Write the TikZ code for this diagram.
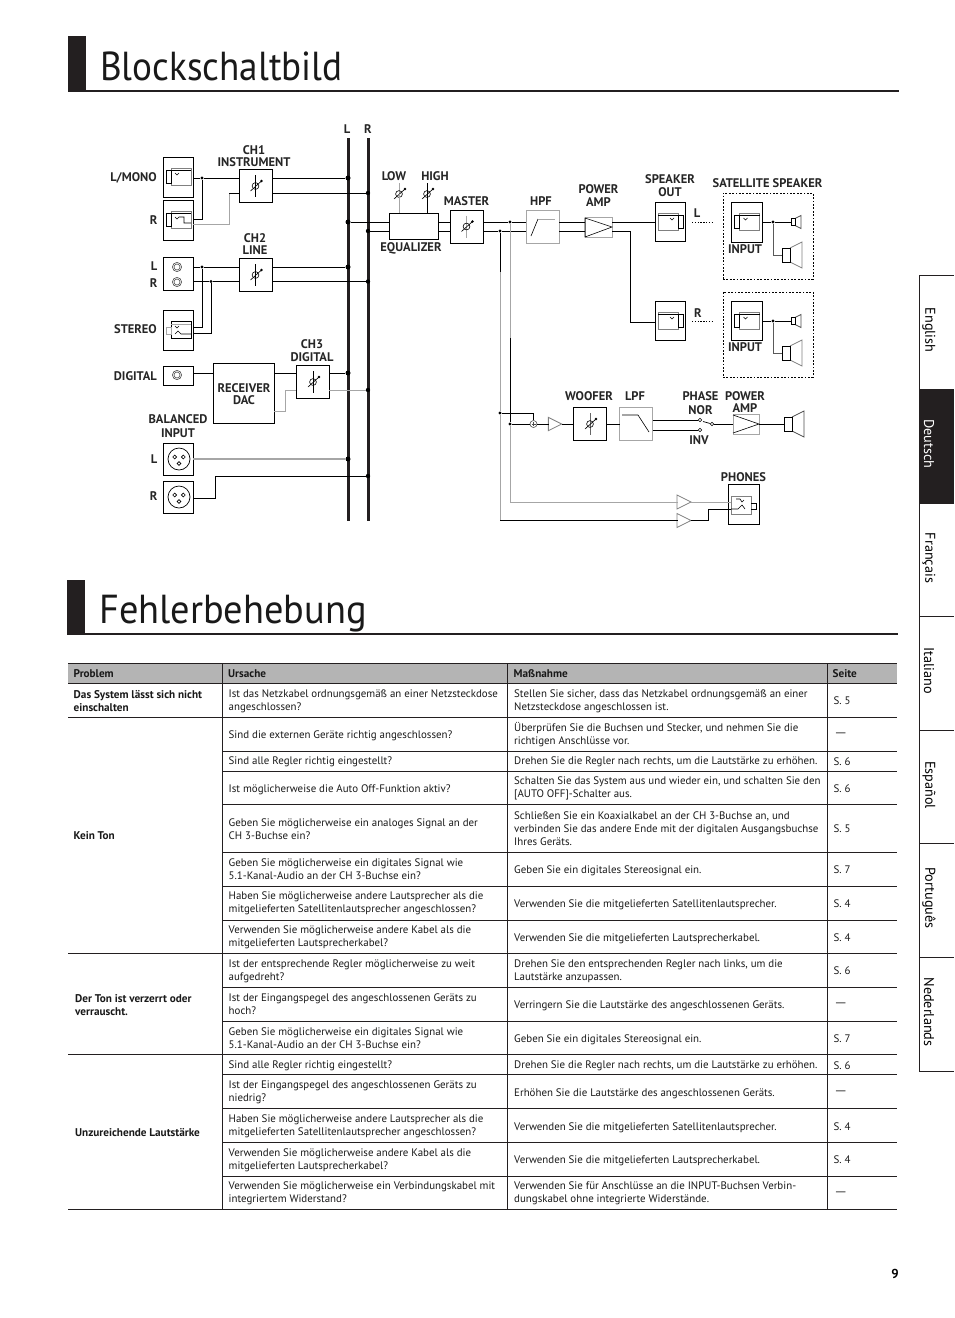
\documentclass[tikz,border=0pt]{standalone}
\usepackage{fontspec}
\setmainfont{PT Sans}
\usepackage{xcolor}
\usetikzlibrary{
    calc,
    positioning
}
\definecolor{midgrey}{HTML}{A6A6A6}
\definecolor{icongrey}{HTML}{808080}
\definecolor{headgrey}{HTML}{B4B4B4}
\definecolor{tabdark}{HTML}{231F20}
\tikzset{
    box/.style 2 args={draw=black, line width=0.8pt, fill=white, minimum width=#1, minimum height=#2, inner sep=0pt, outer sep=0pt},
    greybox/.style 2 args={box={#1}{#2}, draw=midgrey, line width=1pt},
    wire/.style={black, line width=0.7pt},
    gwire/.style={midgrey, line width=1pt},
    dot/.style={circle, fill=black, minimum size=3.4pt, inner sep=0pt},
    busdot/.style={circle, fill=black, minimum size=5pt, inner sep=0pt},
    contact/.style={circle, draw=black, line width=0.6pt, minimum size=3.6pt, inner sep=0pt},
    tri/.style={minimum size=13pt, inner sep=0pt, outer sep=0pt},
    lab/.style={font=\fontsize{12.5}{12.6}\selectfont\bfseries, align=center, inner sep=0pt, text=black!85},
    labw/.style={lab, font=\fontsize{12.5}{14}\selectfont\bfseries},
    labr/.style={lab, anchor=east},
    cell/.style={font=\fontsize{10.9}{13.2}\selectfont, align=left, anchor=west, inner sep=0pt, text=black!90, yshift=-0.4pt},
    prob/.style={cell, font=\fontsize{11.2}{13.2}\selectfont\bfseries},
    head/.style={prob},
    title/.style={font=\fontsize{40.5}{42}\selectfont, anchor=west, inner sep=0pt, text=black!90},
    tabtext/.style={font=\fontsize{14.2}{15}\selectfont, rotate=-90, inner sep=0pt},
    pics/knob/.style={code={
        \draw[#1, line width=0.8pt] (0,-11) -- (0,11);
        \draw[black, line width=0.6pt] (0,0) circle (3.4);
        \draw[black, line width=0.6pt] (-5,5) -- (6,-5);
        \fill[black] (6,-5) circle (1.4);
    }},
    pics/jack/.style={code={
        \draw[icongrey, line width=0.9pt] (-7,-9) rectangle (13,8);
        \draw[black, line width=0.6pt] (-12,-7) rectangle (-7,6);
        \draw[black, line width=0.6pt] (-7,-7) -- (13,-7);
        \draw[black, line width=0.6pt] (-3,-4) -- (-1,-2) -- (1,-4);
    }},
    pics/jackr/.style={code={
        \draw[icongrey, line width=0.9pt] (-7,-9) rectangle (13,8);
        \draw[black, line width=0.6pt] (-12,-7) rectangle (-7,6);
        \draw[black, line width=0.6pt] (-7,-7) -- (13,-7);
        \draw[black, line width=0.6pt] (-3,-3) -- (-1,-1) -- (1,-3) -- (6,-3) -- (6,3) -- (13,3);
    }},
    pics/jacks/.style={code={
        \draw[black, line width=0.6pt] (-7,-9) rectangle (13,8);
        \draw[midgrey, line width=0.9pt] (-12,-3) rectangle (-7,4);
        \draw[midgrey, line width=0.9pt] (-7,-6) -- (13,-6);
        \draw[black, line width=0.6pt] (-3,-4) -- (-1,-2) -- (1,-4);
        \draw[black, line width=0.6pt] (-3,4) -- (0,1) -- (3,4) -- (13,4);
    }},
    pics/spk/.style={code={
        \draw[#1, line width=0.8pt] (4,-3.5) -- (10,-6.5) -- (10,6.5) -- (4,3.5);
        \draw[black, line width=0.6pt] (0,-3.5) rectangle (4,3.5);
    }},
    pics/amptri/.style={code={
        \draw[icongrey, line width=0.8pt] (-7,-7) -- (7,0) -- (-7,7) -- cycle;
    }},
    pics/rca/.style={code={
        \draw[black!70, line width=0.6pt] (0,0) circle (4.6);
        \draw[black!70, line width=0.6pt] (0,0) circle (3);
    }},
    pics/xlr/.style={code={
        \draw[black, line width=0.7pt] (0,0) circle (11);
        \draw[black, line width=0.6pt] (-4.3,-2) circle (1.9);
        \draw[black, line width=0.6pt] (4.3,-2) circle (1.9);
        \draw[black, line width=0.6pt] (0,4.5) circle (1.9);
    }}
}

\begin{document}
\begin{tikzpicture}[x=1pt, y=-1pt]
    \useasboundingbox (0,0) rectangle (954,1318);
    % headings
    \fill[tabdark] (68,36) rectangle (86,91);
    \draw[tabdark, line width=2pt] (68,91) -- (899,91);
    \node[title] (t1) at (100,66) {\scalebox{0.917}[1]{Blockschaltbild}};
    \fill[tabdark] (67,580) rectangle (85,634);
    \draw[tabdark, line width=2pt] (67,634) -- (898,634);
    \node[title] (t2) at (99,614) {\scalebox{0.947}[1]{Fehlerbehebung}};
    % input boxes
    \node[box={30}{40}] (lmono) at (178,177) {};
    \node[box={30}{40}] (rmono) at (178,220) {};
    \node[box={30}{33}] (line) at (178,273.5) {};
    \node[box={30}{40}] (stereo) at (178,330) {};
    \node[box={30}{19}] (dig) at (178,375.5) {};
    \node[box={30}{32}] (xlrl) at (178,459) {};
    \node[box={30}{32}] (xlrr) at (178,497) {};
    \pic at (178,177) {jack};
    \pic at (178,220) {jackr};
    \pic at (177,267) {rca};
    \pic at (177,282) {rca};
    \pic at (178,330) {jacks};
    \pic at (177,375) {rca};
    \pic at (179,459) {xlr};
    \pic at (179,497) {xlr};
    % channel boxes
    \node[box={33}{33}] (ch1) at (255.5,185.5) {};
    \node[box={33}{33}] (ch2) at (255.5,274.5) {};
    \node[box={33}{33}] (ch3) at (312.5,381.5) {};
    \node[box={61}{60}] (recv) at (243.5,393) {};
    \pic at (255.5,186) {knob=black};
    \pic at (255.5,275) {knob=black};
    \pic at (313,382) {knob=black};
    % output chain boxes
    \node[box={49}{26}] (eq) at (413.5,226) {};
    \node[box={33}{33}] (master) at (466.5,226.5) {};
    \node[greybox={33}{33}] (hpf) at (542.5,226.5) {};
    \node[greybox={27}{20}] (amp) at (598.5,227) {};
    \node[box={30}{39}] (spl) at (670,221.5) {};
    \node[box={30}{39}] (spr) at (670,320.5) {};
    \node[box={33}{33}] (woof) at (590,423.5) {};
    \node[greybox={33}{33}] (lpf) at (636,423.5) {};
    \node[greybox={26}{20}] (amp2) at (746,424) {};
    \node[box={31}{40}] (phones) at (743.5,504) {};
    \pic at (466.5,226.5) {knob=midgrey};
    \pic at (590,424) {knob=black!60};
    \draw[black, line width=0.6pt] (531,236) -- (538,219);
    \draw[midgrey, line width=0.9pt] (538,219) -- (555,219);
    \draw[black, line width=0.6pt] (622,415) -- (638,415) -- (649,432);
    \draw[black, line width=0.6pt] (585,218) -- (612,227) -- (585,237) -- cycle;
    \draw[black, line width=0.6pt] (733,415) -- (759,424) -- (733,433);
    \pic[xscale=-1] at (671,222) {jack};
    \pic[xscale=-1] at (671,321) {jack};
    \pic at (746.5,222) {jack};
    \pic at (746.5,321) {jack};
    % phones jack
    \draw[icongrey, line width=0.9pt] (731,496) rectangle (751,514);
    \draw[black, line width=0.6pt] (751,503) -- (756,503) -- (756,509) -- (751,509);
    \draw[black, line width=0.6pt] (736,499) -- (740,499) -- (742,502) -- (744,500);
    \draw[black, line width=0.6pt] (731,509) -- (738,509) -- (742,505) -- (745,509);
    % buses
    \node[lab] (busl) at (347,129) {L};
    \node[lab] (busr) at (368,129) {R};
    \draw[tabdark, line width=3pt] (348,138) -- (348,521);
    \draw[tabdark, line width=3pt] (368,138) -- (368,521);
    % junctions
    \node[dot] (d1) at (202,178) {};
    \node[dot] (d2) at (202,267) {};
    \node[dot] (d3) at (211,281.5) {};
    \node[busdot] (l1) at (348,178) {};
    \node[dot, minimum size=4.4pt] (r1) at (368,193) {};
    \node[busdot] (l2) at (348,222) {};
    \node[dot, minimum size=4.4pt] (r2) at (368,231) {};
    \node[busdot] (l3) at (348,267) {};
    \node[dot, minimum size=4.4pt] (r3) at (368,281.5) {};
    \node[busdot] (l4) at (348,373) {};
    \node[dot, minimum size=4.4pt] (r4) at (368,390) {};
    \node[busdot] (l5) at (348,459) {};
    \node[dot, minimum size=4.4pt] (r5) at (368,476) {};
    % input wiring
    \coordinate (c1) at (202,219);
    \coordinate (c2) at (229,224);
    \coordinate (c3) at (229,193);
    \draw[wire] (lmono.east |- d1) -- (d1) -- (ch1.west |- d1);
    \draw[wire] (rmono.east |- c1) -- (c1) -- (d1);
    \draw[gwire] (rmono.east |- c2) -- (c2) -- (c3);
    \draw[wire] (c3) -- (ch1.west |- c3);
    \draw[wire] (ch1.east |- l1) -- (l1);
    \draw[wire] (ch1.east |- r1) -- (r1);
    \draw[wire] (line.east |- d2) -- (d2) -- (ch2.west |- d2);
    \draw[wire] (line.east |- d3) -- (d3) -- (ch2.west |- d3);
    \draw[wire] (ch2.east |- l3) -- (l3);
    \draw[wire] (ch2.east |- r3) -- (r3);
    \coordinate (c4) at (202,327);
    \coordinate (c5) at (211,333);
    \draw[wire] (d2) -- (c4) -- (stereo.east |- c4);
    \draw[wire] (d3) -- (c5) -- (stereo.east |- c5);
    \draw[wire] (dig.east |- l4) -- (recv.west |- l4);
    \draw[wire] (recv.east |- l4) -- (ch3.west |- l4);
    \draw[wire] (ch3.east |- l4) -- (l4);
    \coordinate (c6) at (285,411);
    \coordinate (c7) at (285,390);
    \draw[gwire] (recv.east |- c6) -- (c6) -- (c7) -- (ch3.west |- c7);
    \draw[gwire] (ch3.east |- r4) -- (r4);
    \draw[gwire, line width=1.3pt] (xlrl.east |- l5) -- (l5);
    \coordinate (c8) at (215,498);
    \coordinate (c9) at (215,476);
    \draw[wire] (xlrr.east |- c8) -- (c8) -- (c9) -- (r5);
    % output wiring
    \node[dot] (d4) at (510,222) {};
    \node[dot] (d5) at (500,231) {};
    \node[dot] (d6) at (500,413) {};
    \node[dot] (d7) at (510,424) {};
    \draw[wire] (l2) -- (eq.west |- l2);
    \draw[wire] (r2) -- (eq.west |- r2);
    \draw[wire] (eq.east |- l2) -- (master.west |- l2);
    \draw[wire] (eq.east |- r2) -- (master.west |- r2);
    \draw[wire] (master.east |- d4) -- (d4) -- (hpf.west |- d4);
    \draw[wire] (master.east |- d5) -- (d5) -- (hpf.west |- d5);
    \draw[wire] (hpf.east |- d4) -- (amp.west |- d4);
    \draw[wire] (hpf.east |- d5) -- (amp.west |- d5);
    \coordinate (c10) at (630,231);
    \coordinate (c11) at (630,322);
    \draw[wire] (amp.east |- d4) -- (spl.west |- d4);
    \draw[wire] (amp.east |- c10) -- (c10) -- (c11) -- (spr.west |- c11);
    % low, high
    \coordinate (klow) at (399,194);
    \coordinate (khigh) at (427,194);
    \pic at (klow) {knob=midgrey};
    \pic at (khigh) {knob=black};
    \draw[gwire] (klow) -- (eq.north -| klow);
    \draw[wire] (khigh) -- (eq.north -| khigh);
    % dotted links
    \coordinate (dl1) at (692,222);
    \coordinate (dl2) at (712,222);
    \coordinate (dr1) at (692,321);
    \coordinate (dr2) at (712,321);
    \draw[black, line width=0.6pt, dash pattern=on 1.4pt off 1.4pt] (dl1) -- (dl2);
    \draw[black, line width=0.6pt, dash pattern=on 1.4pt off 1.4pt] (dr1) -- (dr2);
    % satellite speakers
    \node[draw=black, line width=0.6pt, dash pattern=on 1.8pt off 1.6pt, minimum width=90pt, minimum height=86pt, inner sep=0pt] (sat1) at (768,236) {};
    \node[draw=black, line width=0.6pt, dash pattern=on 1.8pt off 1.6pt, minimum width=90pt, minimum height=85pt, inner sep=0pt] (sat2) at (768,334.5) {};
    \node[box={31}{40}, fill=none] (in1) at (746.5,222) {};
    \node[box={31}{39}, fill=none] (in2) at (746.5,320.5) {};
    \node[dot] (d8) at (773,222) {};
    \node[dot] (d9) at (773,321) {};
    \coordinate (s1) at (791,222);
    \coordinate (s2) at (782,255);
    \coordinate (s3) at (791,321);
    \coordinate (s4) at (782,353);
    \pic at (s1) {spk=black!70};
    \pic[scale=2] at (s2) {spk=icongrey};
    \pic at (s3) {spk=black!70};
    \pic[scale=2] at (s4) {spk=icongrey};
    \draw[wire] (in1.east |- d8) -- (d8) -- (s1);
    \draw[black!65, line width=0.8pt] (d8) |- (s2);
    \draw[wire] (in2.east |- d9) -- (d9) -- (s3);
    \draw[black!65, line width=0.8pt] (d9) |- (s4);
    % woofer branch
    \node[circle, draw=black!70, line width=0.6pt, minimum size=7pt, inner sep=0pt] (sum) at (533.5,424) {};
    \draw[black!70, line width=0.5pt] ($(sum)+(-2,0)$) -- ($(sum)+(2,0)$);
    \draw[black!70, line width=0.5pt] ($(sum)+(0,-2)$) -- ($(sum)+(0,2)$);
    \node[tri] (tw) at (555,424) {};
    \pic[scale=0.95] at (tw) {amptri};
    \coordinate (c12) at (533.5,413);
    \coordinate (c17) at (500,272);
    \coordinate (c18) at (510,338);
    \coordinate (c14) at (500,520.5);
    \coordinate (c13) at (510,502);
    \draw[wire] (d5) -- (c17);
    \draw[gwire] (c17) -- (d6) -- (c14);
    \draw[gwire] (d4) -- (c18);
    \draw[wire] (c18) -- (d7);
    \draw[wire] (d6) -- (c12) -- (sum);
    \draw[wire] (d7) -- (sum);
    \draw[wire] (sum) -- (tw.west);
    \draw[wire] (tw.east) -- (woof.west |- tw);
    \draw[wire] (woof.east |- tw) -- (lpf.west |- tw);
    \node[contact] (nor) at (700,420) {};
    \node[contact] (inv) at (700,430) {};
    \node[contact] (com) at (712,424) {};
    \draw[wire] (lpf.east |- nor) -- (nor);
    \draw[wire] (lpf.east |- inv) -- (inv);
    \draw[wire] (703,421.5) -- (com);
    \draw[wire] (com) -- (amp2.west |- com);
    \coordinate (s5) at (784,424);
    \draw[wire] (amp2.east |- com) -- (s5);
    \pic[scale=2] at (s5) {spk=black!70};
    % phones branch
    \node[tri] (tp1) at (684,502) {};
    \node[tri] (tp2) at (684,520.5) {};
    \pic at (tp1) {amptri};
    \pic at (tp2) {amptri};
    \coordinate (c15) at (708,520.5);
    \coordinate (c16) at (708,509);
    \draw[gwire] (d7) -- (c13) -- (tp1.west);
    \draw[gwire] (tp1.east) -- (731,502);
    \draw[wire] (c14) -- (tp2.west);
    \draw[wire] (tp2.east) -- (c15) -- (c16) -- (731,509);
    % labels
    \node[lab] (lbch1) at (254,156) {CH1\\INSTRUMENT};
    \node[labr] (lblm) at (157,178) {L/MONO};
    \node[labr] (lbr1) at (157.5,220) {R};
    \node[lab] (lbch2) at (255,244) {CH2\\LINE};
    \node[labr] (lbl2) at (157.5,266) {L};
    \node[labr] (lbr2) at (157.5,283) {R};
    \node[labr] (lbst) at (157,329) {STEREO};
    \node[labr] (lbdg) at (157,376) {DIGITAL};
    \node[lab] (lbch3) at (312,350.5) {CH3\\DIGITAL};
    \node[lab] (lbrv) at (244,394) {RECEIVER\\DAC};
    \node[labw] (lbbal) at (178,426) {BALANCED\\INPUT};
    \node[labr] (lbl3) at (157.5,459) {L};
    \node[labr] (lbr3) at (157.5,496) {R};
    \node[lab] (lblow) at (394,176) {LOW};
    \node[lab] (lbhi) at (435,176) {HIGH};
    \node[lab] (lbma) at (466.5,201) {MASTER};
    \node[lab] (lbeq) at (411,248) {EQUALIZER};
    \node[lab] (lbhp) at (541,201) {HPF};
    \node[lab] (lbpa) at (598.5,195.5) {POWER\\AMP};
    \node[lab] (lbso) at (670,185.5) {SPEAKER\\OUT};
    \node[lab] (lbsa) at (767.5,183) {SATELLITE SPEAKER};
    \node[lab] (lbll) at (697,213.5) {L};
    \node[lab] (lbrr) at (698,313) {R};
    \node[lab] (lbi1) at (745,249) {INPUT};
    \node[lab] (lbi2) at (745,347) {INPUT};
    \node[lab] (lbwo) at (589,396) {WOOFER};
    \node[lab] (lblp) at (635,396) {LPF};
    \node[labw] (lbph) at (700.5,403) {PHASE\\NOR};
    \node[lab] (lbin) at (699,440) {INV};
    \node[lab] (lbp2) at (745,402) {POWER\\AMP};
    \node[lab] (lbpn) at (743.5,477) {PHONES};
    % table
    \fill[headgrey] (68,663) rectangle (897,683);
    \draw[tabdark, line width=1pt] (68,663) -- (897,663);
    \foreach \y in {683,717,953,1054,1209} \draw[tabdark, line width=1pt] (68,\y) -- (897,\y);
    \foreach \y in {751,771,804,852,886,920,987,1021,1074,1108,1142,1176} \draw[tabdark, line width=1pt] (222,\y) -- (897,\y);
    \foreach \x in {222,507,827} \draw[tabdark, line width=1pt] (\x,663) -- (\x,1209);
    \node[head] (h1) at (73.5,673.5) {Problem};
    \node[head] (h2) at (228,673.5) {Ursache};
    \node[head] (h3) at (513.5,673.5) {Maßnahme};
    \node[head] (h4) at (832.5,673.5) {Seite};
    \node[prob] (p1) at (73.5,700.5) {Das System lässt sich nicht\\einschalten};
    \node[prob] (p2) at (73.5,835.5) {Kein Ton};
    \node[prob] (p3) at (75,1004.5) {Der Ton ist verzerrt oder\\verrauscht.};
    \node[prob] (p4) at (75,1132.5) {Unzureichende Lautstärke};
    \node[cell] (u1) at (228.5,700.5) {Ist das Netzkabel ordnungsgemäß an einer Netzsteckdose\\angeschlossen?};
    \node[cell] (u2) at (228.5,735) {Sind die externen Geräte richtig angeschlossen?};
    \node[cell] (u3) at (228.5,761.5) {Sind alle Regler richtig eingestellt?};
    \node[cell] (u4) at (228.5,789) {Ist möglicherweise die Auto Off-Funktion aktiv?};
    \node[cell] (u5) at (228.5,828.5) {Geben Sie möglicherweise ein analoges Signal an der\\CH 3-Buchse ein?};
    \node[cell] (u6) at (228.5,869) {Geben Sie möglicherweise ein digitales Signal wie\\5.1-Kanal-Audio an der CH 3-Buchse ein?};
    \node[cell] (u7) at (228.5,903) {Haben Sie möglicherweise andere Lautsprecher als die\\mitgelieferten Satellitenlautsprecher angeschlossen?};
    \node[cell] (u8) at (228.5,936.5) {Verwenden Sie möglicherweise andere Kabel als die\\mitgelieferten Lautsprecherkabel?};
    \node[cell] (u9) at (228.5,970.5) {Ist der entsprechende Regler möglicherweise zu weit\\aufgedreht?};
    \node[cell] (u10) at (228.5,1004) {Ist der Eingangspegel des angeschlossenen Geräts zu\\hoch?};
    \node[cell] (u11) at (228.5,1038) {Geben Sie möglicherweise ein digitales Signal wie\\5.1-Kanal-Audio an der CH 3-Buchse ein?};
    \node[cell] (u12) at (228.5,1065.5) {Sind alle Regler richtig eingestellt?};
    \node[cell] (u13) at (228.5,1092) {Ist der Eingangspegel des angeschlossenen Geräts zu\\niedrig?};
    \node[cell] (u14) at (228.5,1126) {Haben Sie möglicherweise andere Lautsprecher als die\\mitgelieferten Satellitenlautsprecher angeschlossen?};
    \node[cell] (u15) at (228.5,1159.5) {Verwenden Sie möglicherweise andere Kabel als die\\mitgelieferten Lautsprecherkabel?};
    \node[cell] (u16) at (228.5,1193) {Verwenden Sie möglicherweise ein Verbindungskabel mit\\integriertem Widerstand?};
    \node[cell] (m1) at (514,700.5) {Stellen Sie sicher, dass das Netzkabel ordnungsgemäß an einer\\Netzsteckdose angeschlossen ist.};
    \node[cell] (m2) at (514,734) {Überprüfen Sie die Buchsen und Stecker, und nehmen Sie die\\richtigen Anschlüsse vor.};
    \node[cell] (m3) at (514,761.5) {Drehen Sie die Regler nach rechts, um die Lautstärke zu erhöhen.};
    \node[cell] (m4) at (514,788) {Schalten Sie das System aus und wieder ein, und schalten Sie den\\{[}AUTO OFF{]}-Schalter aus.};
    \node[cell] (m5) at (514,828.5) {Schließen Sie ein Koaxialkabel an der CH 3-Buchse an, und\\verbinden Sie das andere Ende mit der digitalen Ausgangsbuchse\\Ihres Geräts.};
    \node[cell] (m6) at (514,870) {Geben Sie ein digitales Stereosignal ein.};
    \node[cell] (m7) at (514,904) {Verwenden Sie die mitgelieferten Satellitenlautsprecher.};
    \node[cell] (m8) at (514,938) {Verwenden Sie die mitgelieferten Lautsprecherkabel.};
    \node[cell] (m9) at (514,970.5) {Drehen Sie den entsprechenden Regler nach links, um die\\Lautstärke anzupassen.};
    \node[cell] (m10) at (514,1005) {Verringern Sie die Lautstärke des angeschlossenen Geräts.};
    \node[cell] (m11) at (514,1039) {Geben Sie ein digitales Stereosignal ein.};
    \node[cell] (m12) at (514,1065.5) {Drehen Sie die Regler nach rechts, um die Lautstärke zu erhöhen.};
    \node[cell] (m13) at (514,1093) {Erhöhen Sie die Lautstärke des angeschlossenen Geräts.};
    \node[cell] (m14) at (514,1127) {Verwenden Sie die mitgelieferten Satellitenlautsprecher.};
    \node[cell] (m15) at (514,1160.5) {Verwenden Sie die mitgelieferten Lautsprecherkabel.};
    \node[cell] (m16) at (514,1193) {Verwenden Sie für Anschlüsse an die INPUT-Buchsen Verbin-\\dungskabel ohne integrierte Widerstände.};
    \foreach \n/\s/\y in {1/S. 5/700.5,3/S. 6/761,4/S. 6/788,5/S. 5/828.5,6/S. 7/869.5,7/S. 4/903,8/S. 4/937,9/S. 6/970.5,11/S. 7/1038,12/S. 6/1065,14/S. 4/1126,15/S. 4/1159.5}
        \node[cell] (s\n) at (833.5,\y) {\s};
    \foreach \n/\y in {2/734,10/1004,13/1092,16/1193}
        \node[cell] (s\n) at (834,\y) {\scalebox{1.5}[1]{—}};
    % side tabs
    \fill[tabdark] (919,389) rectangle (954,503);
    \draw[tabdark, line width=0.8pt] (919,275) -- (919,1071);
    \foreach \y in {275,389,503,616,730,843,957,1071} \draw[tabdark, line width=0.8pt] (919,\y) -- (954,\y);
    \foreach \n/\y in {English/330,Français/558,Italiano/671,Español/785,Português/898,Nederlands/1012}
        \node[tabtext] (tab\y) at (929,\y) {\n};
    \node[tabtext, text=white] (tab444) at (929,444) {Deutsch};
    \node[font=\fontsize{13}{14}\selectfont\bfseries, inner sep=0pt] (pg) at (895,1273.5) {9};
\end{tikzpicture}
\end{document}
